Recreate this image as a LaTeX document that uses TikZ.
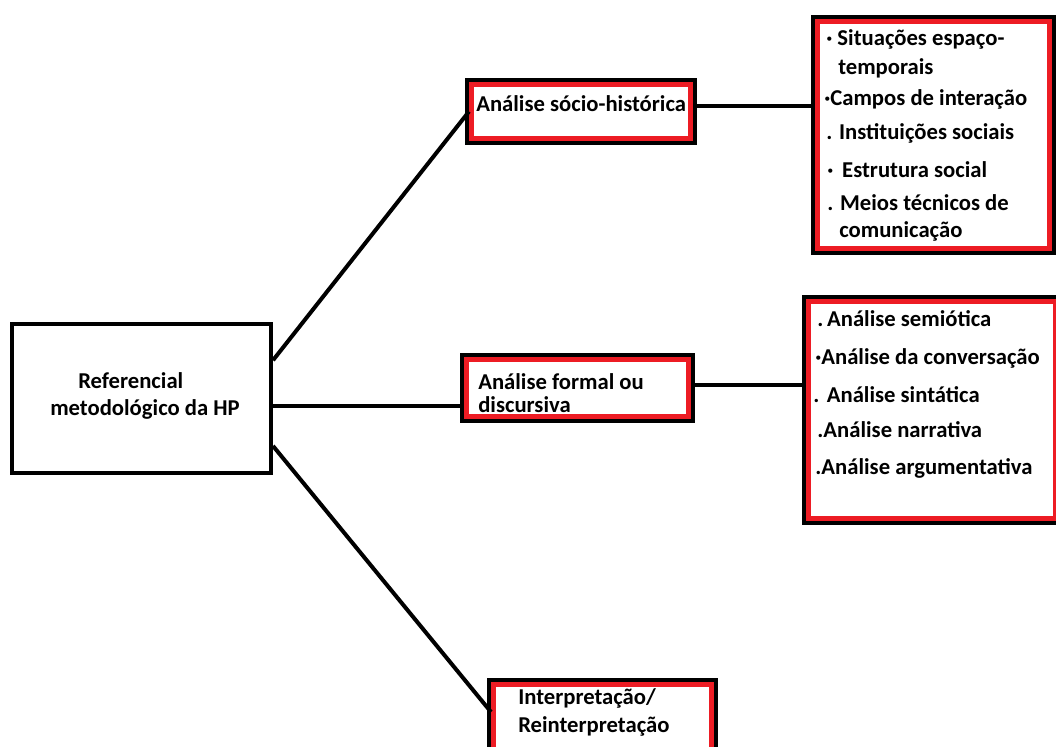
\documentclass[tikz,border=0pt]{standalone}
\usepackage{fontspec}
\setmainfont{Carlito}
\usetikzlibrary{calc}
\definecolor{boxred}{RGB}{237,28,36}

\begin{document}
\begin{tikzpicture}[x=0.75pt, y=-0.75pt, line join=miter]
\tikzstyle{frame}=[rectangle, draw=black, line width=3pt, fill=white, inner sep=0pt]
\tikzstyle{redframe}=[rectangle, draw=boxred, line width=3.75pt, fill=white, inner sep=0pt, preaction={draw=black, line width=9.75pt}]
\tikzstyle{txt}=[inner sep=0pt, anchor=west, yshift=-3pt, font=\bfseries\fontsize{17}{19}\selectfont, text height=0.7em, text depth=0.2em]
\tikzstyle{conn}=[line width=3pt, color=black]
\clip (0,0) rectangle (1056,746);

% boxes
\node[frame, minimum width=194.25pt, minimum height=111.75pt] (ref) at (141.5,398.5) {};
\node[redframe, minimum width=164.25pt, minimum height=40.5pt] (socio) at (581,111.5) {};
\node[redframe, minimum width=166.5pt, minimum height=42.75pt] (formal) at (577.5,388) {};
\node[redframe, minimum width=163.5pt, minimum height=50.25pt] (interp) at (602.5,718) {};
\node[redframe, minimum width=174pt, minimum height=170.25pt] (lista) at (933.5,135) {};
\node[redframe, minimum width=185.25pt, minimum height=162.75pt] (listb) at (932,410) {};

% texts
\node[txt] (ref-1) at (78,381) {Referencial};
\node[txt] (ref-2) at (50,408) {metodológico da HP};
\node[txt] (socio-1) at (476,104) {Análise sócio-histórica};
\node[txt] (formal-1) at (478,382) {Análise formal ou};
\node[txt] (formal-2) at (478,405) {discursiva};
\node[txt] (interp-1) at (518,697) {Interpretação/};
\node[txt] (interp-2) at (518,725) {Reinterpretação};

\foreach \yy/\xx/\item [count=\i] in {38/826/{· Situações espaço-}, 67/838/{temporais},
  98/824/{·Campos de interação}, 132/826/{. Instituições sociais}, 170/827/{·~\,Estrutura social},
  203/827/{. Meios técnicos de}, 230/839/{comunicação}}
  \node[txt] (lista-\i) at (\xx,\yy) {\item};

\foreach \yy/\xx/\item [count=\i] in {319/817/{.\,Análise semiótica}, 357/815/{·Análise da conversação},
  395/813/{.\,\,Análise sintática}, 430/817/{.Análise narrativa}, 467/815/{.Análise argumentativa}}
  \node[txt] (listb-\i) at (\xx,\yy) {\item};

% connectors
\draw[conn] ($(ref.north east)!0.25!(ref.south east)$) -- (socio.west);
\draw[conn] ($(ref.east)+(0,7)$) coordinate (m1) -- (m1 -| formal.west);
\draw[conn] ($(ref.north east)!0.81!(ref.south east)$) -- ($(interp.west)+(0,-6)$);
\draw[conn] ($(socio.east)+(0,-6)$) coordinate (s1) -- (s1 -| lista.west);
\draw[conn] ($(formal.east)+(0,-3)$) coordinate (f1) -- (f1 -| listb.west);
\end{tikzpicture}
\end{document}
